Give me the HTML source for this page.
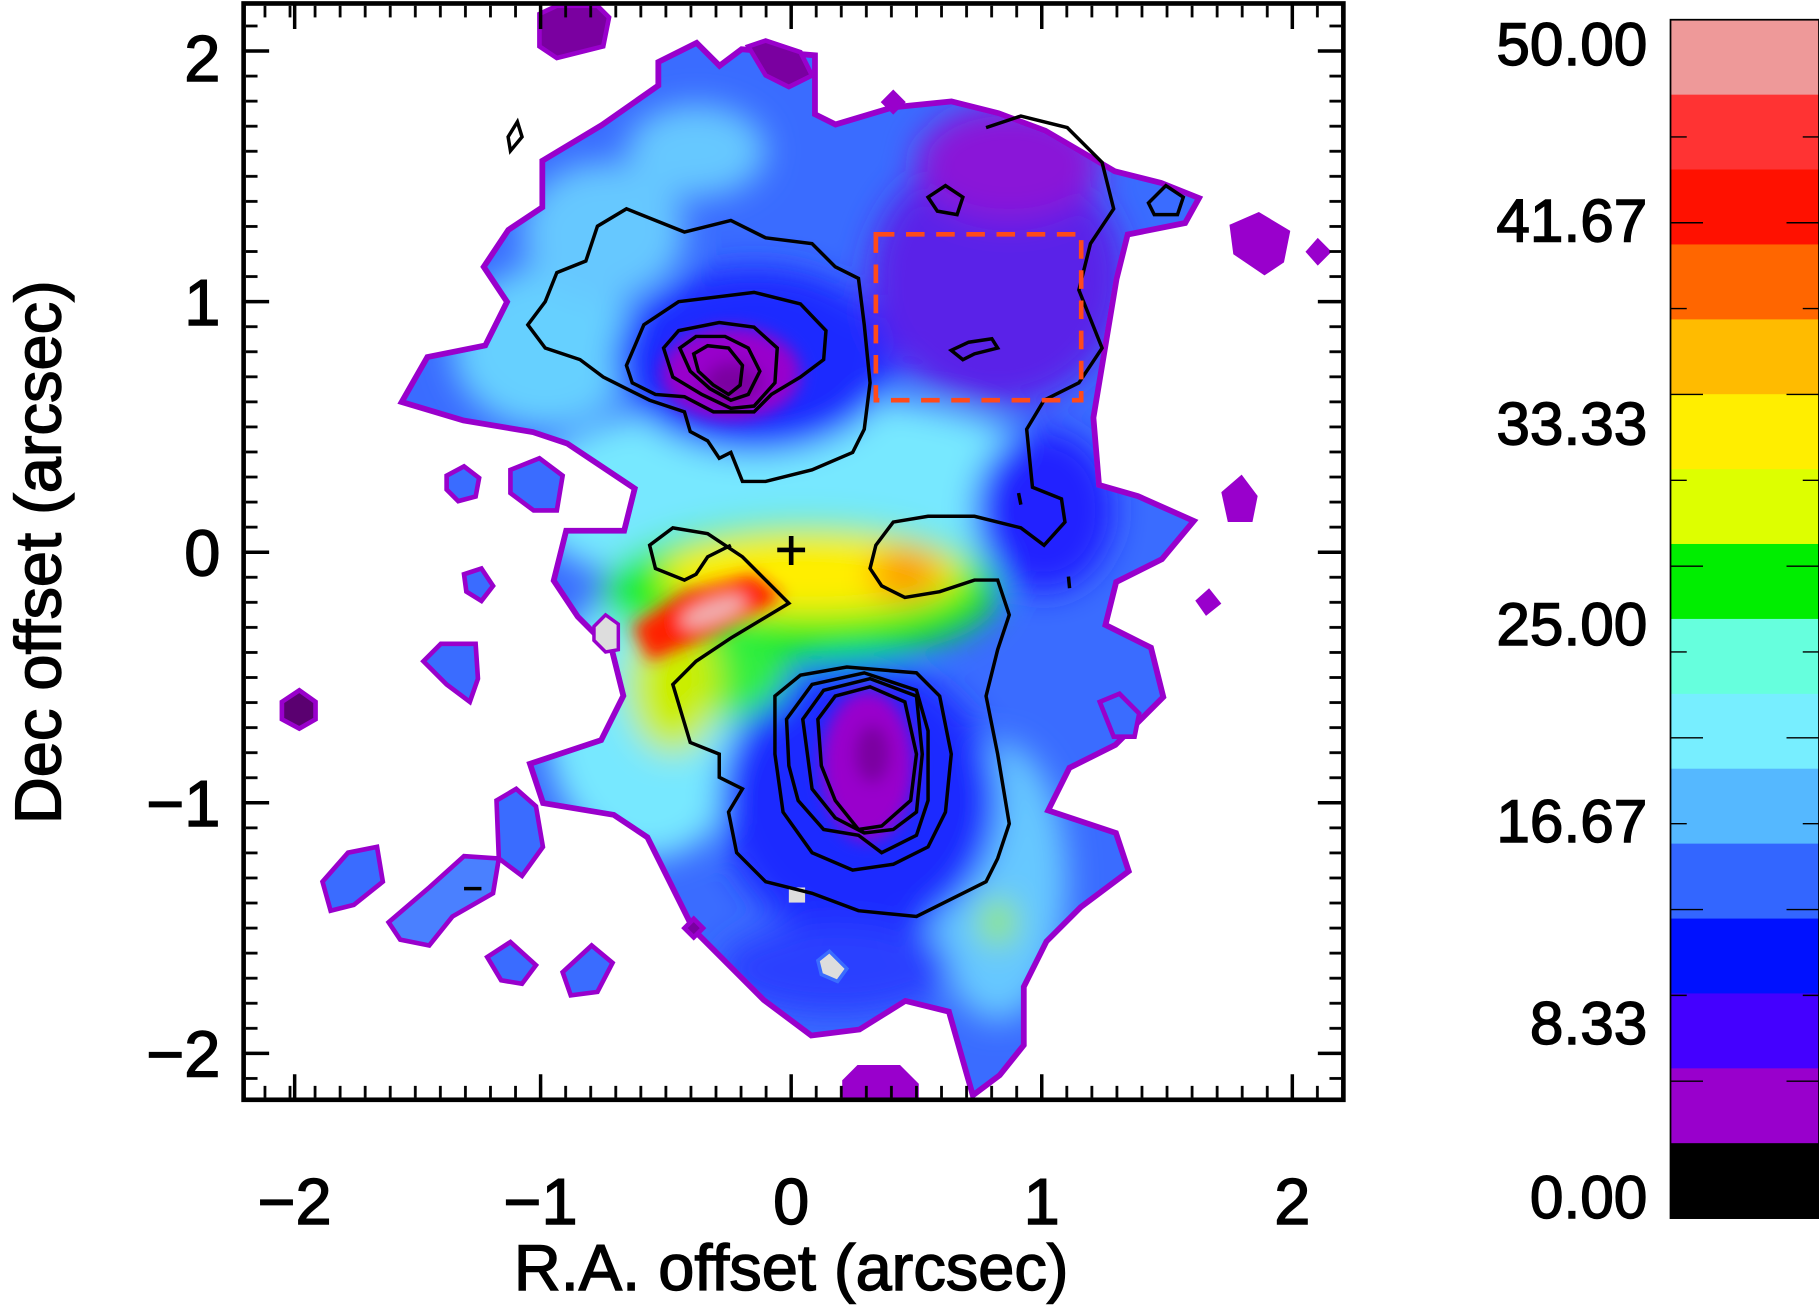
<!DOCTYPE html>
<html><head><meta charset="utf-8">
<style>
html,body{margin:0;padding:0;background:#fff;}
svg{display:block;}
text{font-family:"Liberation Sans",sans-serif;fill:#000;stroke:#000;stroke-width:1.2px;}
</style></head>
<body>
<svg width="1819" height="1310" viewBox="0 0 1568 1129.2" preserveAspectRatio="none" xmlns="http://www.w3.org/2000/svg">
<defs>
<clipPath id="pc"><rect x="210" y="3" width="948" height="945"/></clipPath>
<clipPath id="blob"><path id="bp" d="M470,140 L520,110 L570,75 L570,55 L600,40 L620,60 L640,45 L700,50 L700,100 L720,110 L770,95 L820,90 L860,100 L900,115 L960,150 L1000,160 L1030,172 L1020,190 L970,200 L960,240 L950,300 L940,360 L945,420 L980,430 L1025,450 L1000,480 L960,500 L950,540 L990,560 L1000,600 L960,640 L920,660 L900,700 L960,720 L970,750 L930,780 L900,810 L880,850 L880,900 L860,925 L840,940 L820,870 L780,860 L740,885 L700,890 L660,860 L630,830 L600,800 L580,760 L560,720 L530,700 L470,690 L460,660 L520,640 L540,600 L530,560 L500,530 L480,500 L490,460 L540,460 L550,420 L520,400 L490,380 L460,370 L400,360 L350,345 L370,310 L420,300 L440,260 L420,230 L440,200 L470,180 Z"/></clipPath>
<filter id="b1" x="-50%" y="-50%" width="200%" height="200%"><feGaussianBlur stdDeviation="14"/></filter>
<filter id="b2" x="-50%" y="-50%" width="200%" height="200%"><feGaussianBlur stdDeviation="7"/></filter>
<pattern id="tx" patternUnits="userSpaceOnUse" x="682" y="0" width="21.6" height="40"><rect x="-1.2" y="0" width="2.4" height="40" fill="#000"/><rect x="20.4" y="0" width="2.4" height="40" fill="#000"/></pattern>
<pattern id="ty" patternUnits="userSpaceOnUse" x="0" y="476" width="40" height="21.6"><rect x="0" y="-1.2" width="40" height="2.4" fill="#000"/><rect x="0" y="20.4" width="40" height="2.4" fill="#000"/></pattern>
</defs>
<g clip-path="url(#pc)">
 <use href="#bp" fill="none" stroke="#9900cc" stroke-width="10"/>
 <g clip-path="url(#blob)">
  <rect x="300" y="0" width="800" height="960" fill="#3a6cff"/>
  <g filter="url(#b1)">
   <ellipse cx="690" cy="430" rx="240" ry="90" fill="#77e8ff"/>
   <ellipse cx="560" cy="620" rx="90" ry="120" fill="#77e8ff"/>
   <ellipse cx="470" cy="300" rx="80" ry="70" fill="#66d0ff"/>
   <ellipse cx="860" cy="760" rx="60" ry="120" fill="#66c8ff"/>
   <ellipse cx="520" cy="200" rx="70" ry="60" fill="#66c8ff"/>
   <ellipse cx="600" cy="130" rx="60" ry="40" fill="#66c8ff"/>
   <ellipse cx="650" cy="310" rx="120" ry="80" fill="#1a2cff"/>
   <ellipse cx="860" cy="240" rx="110" ry="110" fill="#5a20e8"/>
   <ellipse cx="870" cy="140" rx="80" ry="50" fill="#8a18d8"/>
   <ellipse cx="900" cy="440" rx="60" ry="70" fill="#2020ff"/>
   <ellipse cx="740" cy="690" rx="120" ry="120" fill="#1a2cff"/>
   <ellipse cx="720" cy="835" rx="100" ry="40" fill="#2a40ff"/>
   <ellipse cx="690" cy="510" rx="170" ry="60" fill="#10ee20"/>
   <ellipse cx="620" cy="580" rx="60" ry="40" fill="#30ee40"/>
   <ellipse cx="580" cy="590" rx="40" ry="60" fill="#cbee00"/>
   <ellipse cx="700" cy="495" rx="130" ry="35" fill="#ffee00"/>
   <ellipse cx="780" cy="495" rx="30" ry="22" fill="#ff9900"/>
   <ellipse cx="860" cy="795" rx="15" ry="20" fill="#99ee00"/>
  </g>
  <g filter="url(#b2)">
   <path d="M545,540 L590,510 L650,495 L675,515 L620,545 L560,570 Z" fill="#ff2200"/>
   <ellipse cx="615" cy="527" rx="30" ry="10" fill="#f0b0b0" transform="rotate(-20 615 527)"/>
   <ellipse cx="630" cy="322" rx="60" ry="40" fill="#9900cc"/>
   <ellipse cx="632" cy="330" rx="25" ry="18" fill="#7a00a0"/>
   <ellipse cx="748" cy="660" rx="40" ry="65" fill="#9900cc"/>
   <ellipse cx="752" cy="650" rx="15" ry="25" fill="#7a00a0"/>
  </g>
 </g>
 <g stroke="#9900cc" stroke-width="4">
  <polygon points="243,605 258,595 272,605 272,620 258,628 243,620" fill="#5a0070"/>
  <polygon points="385,410 400,402 413,412 410,428 395,432 385,422" fill="#3a6cff"/>
  <polygon points="440,405 465,395 485,410 480,440 460,440 440,425" fill="#3a6cff"/>
  <polygon points="400,495 415,490 425,505 415,518 402,510" fill="#3a6cff"/>
  <polygon points="365,570 380,555 410,555 412,585 405,605 385,590" fill="#3a6cff"/>
  <polygon points="278,760 300,735 325,730 330,760 305,780 285,785" fill="#3a6cff"/>
  <polygon points="335,795 370,765 400,738 430,740 425,770 390,790 370,815 345,810" fill="#4a80ff"/>
  <polygon points="428,690 445,680 462,695 468,730 450,755 430,740" fill="#3a6cff"/>
  <polygon points="420,825 440,812 462,832 450,848 432,845" fill="#3a6cff"/>
  <polygon points="485,838 510,815 528,830 515,855 492,858" fill="#3a6cff"/>
  <polygon points="1062,195 1085,185 1110,200 1105,225 1090,235 1065,218" fill="#9900cc"/>
  <polygon points="1055,425 1070,412 1082,428 1078,448 1060,448" fill="#9900cc"/>
  <polygon points="948,605 965,598 982,615 978,635 960,635" fill="#3a6cff"/>
  <polygon points="1033,518 1042,510 1050,520 1040,528" fill="#9900cc"/>
  <polygon points="762,88 770,80 778,88 770,96" fill="#9900cc"/>
  <polygon points="1128,217 1136,208 1145,217 1136,226" fill="#9900cc"/>
  <polygon points="728,932 740,920 775,920 790,935 790,950 728,950" fill="#9900cc"/>
  <polygon points="465,12 480,5 515,5 525,15 520,40 480,50 465,40" fill="#7a00a0"/>
  <polygon points="645,40 660,35 690,45 700,65 680,75 660,65" fill="#7a00a0"/>
  <polygon points="590,800 598,792 606,800 598,808" fill="#7a00a0"/>
 </g>
 <polygon points="512,540 522,530 533,538 533,560 522,562 512,552" fill="#ddd" stroke="#9900cc" stroke-width="3"/>
 <polygon points="705,828 715,820 730,835 722,846 708,840" fill="#ddd" stroke="#3a6cff" stroke-width="3"/>
 <rect x="680" y="765" width="14" height="13" fill="#ddd"/>
 <g fill="none" stroke="#000" stroke-width="3">
  <path d="M455,280 L470,260 L480,235 L505,225 L515,195 L540,180 L590,200 L630,190 L660,205 L700,210 L720,230 L740,240 L745,280 L750,330 L745,370 L735,390 L700,405 L660,415 L640,415 L630,390 L620,395 L610,380 L595,372 L590,355 L560,345 L540,335 L520,325 L500,310 L470,300 Z"/>
  <path d="M540,315 L555,280 L585,260 L650,252 L690,262 L712,285 L710,310 L690,325 L665,340 L650,355 L615,355 L590,342 L565,340 L545,330 Z"/>
  <path d="M572,300 L585,285 L620,278 L650,282 L670,300 L668,330 L650,350 L630,352 L605,340 L580,325 Z"/>
  <path d="M586,300 L600,290 L625,290 L645,300 L655,320 L645,340 L630,345 L612,335 L595,320 Z"/>
  <path d="M598,305 L610,298 L628,300 L640,315 L638,332 L628,340 L615,332 L602,320 Z"/>
  <path d="M850,110 L880,100 L920,110 L950,140 L960,180 L940,210 L930,250 L950,300 L930,330 L900,345 L885,370 L890,420 L915,430 L918,450 L900,470 L880,455 L860,450 L840,445 L800,445 L770,450 L755,470 L750,490 L760,505 L780,515 L810,510 L840,500 L860,500 L870,530 L860,560 L850,600 L860,650 L870,710 L860,740 L850,760 L820,775 L790,790 L740,785 L700,770 L660,760 L635,735 L628,700 L640,680 L620,670 L620,650 L595,640 L580,590 L600,570 L630,550 L680,520 L660,500 L640,480 L610,460 L580,455 L560,470 L565,490 L590,500 L600,495 L610,480 L630,470"/>
  <path d="M800,170 L815,160 L830,170 L825,185 L808,182 Z"/>
  <path d="M820,302 L835,295 L855,292 L860,300 L840,305 L830,310 Z"/>
  <path d="M990,175 L1005,160 L1020,170 L1015,185 L995,185 Z"/>
  <path d="M438,118 L446,105 L450,118 L440,130 Z"/>
  <path d="M668,600 L690,582 L730,575 L790,580 L810,600 L820,650 L815,700 L800,730 L770,745 L735,750 L700,735 L675,700 L668,650 Z"/>
  <path d="M678,620 L700,590 L745,580 L790,595 L800,630 L800,690 L790,720 L760,735 L740,720 L710,715 L688,690 L680,660 Z"/>
  <path d="M692,620 L710,595 L750,585 L790,600 L795,650 L790,700 L770,715 L745,718 L720,705 L700,680 Z"/>
  <path d="M705,620 L720,600 L750,592 L780,605 L790,650 L785,690 L760,712 L740,715 L720,690 L708,660 Z"/>
  <path d="M878,425 L880,435 M921,497 L922,507 M400,766 L415,766"/>
 </g>
 <rect x="755" y="202" width="177" height="143" fill="none" stroke="#ff4a1a" stroke-width="4" stroke-dasharray="16,10"/>
 <path d="M670,474 L694,474 M682,462 L682,487" stroke="#000" stroke-width="4"/>
</g>
<rect x="212" y="936" width="944" height="10" fill="url(#tx)"/>
<rect x="212" y="5" width="944" height="10" fill="url(#tx)"/>
<rect x="212" y="5" width="10" height="941" fill="url(#ty)"/>
<rect x="1146" y="5" width="10" height="941" fill="url(#ty)"/>
<path d="M254,948 V926 M466,948 V926 M682,948 V926 M898,948 V926 M1114,948 V926 M254,3 V25 M466,3 V25 M682,3 V25 M898,3 V25 M1114,3 V25 M210,44 H232 M210,260 H232 M210,476 H232 M210,692 H232 M210,908 H232 M1158,44 H1136 M1158,260 H1136 M1158,476 H1136 M1158,692 H1136 M1158,908 H1136" stroke="#000" stroke-width="3"/>
<rect x="210" y="3" width="948" height="945" fill="none" stroke="#000" stroke-width="4"/>
<g font-size="56" text-anchor="middle">
 <text x="254" y="1055">−2</text>
 <text x="466" y="1055">−1</text>
 <text x="682" y="1055">0</text>
 <text x="898" y="1055">1</text>
 <text x="1114" y="1055">2</text>
</g>
<g font-size="56" text-anchor="end">
 <text x="190" y="70">2</text>
 <text x="190" y="280">1</text>
 <text x="190" y="496">0</text>
 <text x="190" y="712">−1</text>
 <text x="190" y="928">−2</text>
</g>
<text x="682" y="1112" font-size="56" text-anchor="middle">R.A. offset (arcsec)</text>
<text transform="translate(52,476) rotate(-90)" font-size="56" text-anchor="middle">Dec offset (arcsec)</text>
<g>
 <rect x="1440" y="17" width="128" height="65" fill="#ee9999"/>
 <rect x="1440" y="81.6" width="128" height="65" fill="#ff3333"/>
 <rect x="1440" y="146.1" width="128" height="65" fill="#ff1100"/>
 <rect x="1440" y="210.7" width="128" height="65" fill="#ff6600"/>
 <rect x="1440" y="275.3" width="128" height="65" fill="#ffbb00"/>
 <rect x="1440" y="339.8" width="128" height="65" fill="#ffee00"/>
 <rect x="1440" y="404.4" width="128" height="65" fill="#ddff00"/>
 <rect x="1440" y="468.9" width="128" height="65" fill="#00ee00"/>
 <rect x="1440" y="533.5" width="128" height="65" fill="#66ffdd"/>
 <rect x="1440" y="598.1" width="128" height="65" fill="#77eeff"/>
 <rect x="1440" y="662.6" width="128" height="65" fill="#55b8ff"/>
 <rect x="1440" y="727.2" width="128" height="65" fill="#3366ff"/>
 <rect x="1440" y="791.8" width="128" height="65" fill="#0011ff"/>
 <rect x="1440" y="856.3" width="128" height="65" fill="#4400ff"/>
 <rect x="1440" y="920.9" width="128" height="65" fill="#9900cc"/>
 <rect x="1440" y="985.4" width="128" height="64.6" fill="#000000"/>
</g>
<path d="M1440,118 h14 M1568,118 h-14 M1440,192 h28 M1568,192 h-28 M1440,266 h14 M1568,266 h-14 M1440,340 h28 M1568,340 h-28 M1440,414 h14 M1568,414 h-14 M1440,488 h28 M1568,488 h-28 M1440,562 h14 M1568,562 h-14 M1440,636 h28 M1568,636 h-28 M1440,710 h14 M1568,710 h-14 M1440,784 h28 M1568,784 h-28 M1440,858 h14 M1568,858 h-14 M1440,932 h28 M1568,932 h-28" stroke="#000" stroke-width="1.2"/>
<rect x="1440" y="17" width="128" height="1033" fill="none" stroke="#000" stroke-width="1.5"/>
<g font-size="52" text-anchor="end">
 <text x="1420" y="56">50.00</text>
 <text x="1420" y="208">41.67</text>
 <text x="1420" y="383">33.33</text>
 <text x="1420" y="556">25.00</text>
 <text x="1420" y="726">16.67</text>
 <text x="1420" y="900">8.33</text>
 <text x="1420" y="1050">0.00</text>
</g>
</svg>
</body></html>
